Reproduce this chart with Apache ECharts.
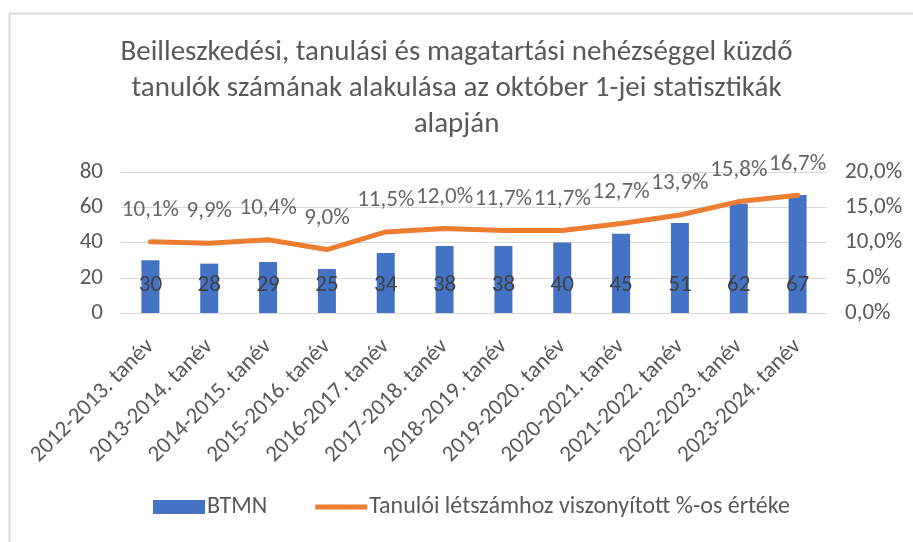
<!DOCTYPE html>
<html>
<head>
<meta charset="utf-8">
<script src="https://cdn.jsdelivr.net/npm/echarts@6/dist/echarts.min.js"></script>
<style>
  html, body { margin: 0; padding: 0; background: #fff; }
  #chart { width: 913px; height: 542px; }
</style>
</head>
<body>
<div id="chart"></div>
<script>
// ==================
// DATA
// ==================

const categories = [
    '2012-2013. tanév', '2013-2014. tanév', '2014-2015. tanév', '2015-2016. tanév',
    '2016-2017. tanév', '2017-2018. tanév', '2018-2019. tanév', '2019-2020. tanév',
    '2020-2021. tanév', '2021-2022. tanév', '2022-2023. tanév', '2023-2024. tanév'
];
const btmnValues = [30, 28, 29, 25, 34, 38, 38, 40, 45, 51, 62, 67];
const percentValues = [10.1, 9.9, 10.4, 9.0, 11.5, 12.0, 11.7, 11.7, 12.7, 13.9, 15.8, 16.7];

const titleText = 'Beilleszkedési, tanulási és magatartási nehézséggel küzdő\ntanulók számának alakulása az október 1-jei statisztikák\nalapján';
const barName = 'BTMN';
const lineName = 'Tanulói létszámhoz viszonyított %-os értéke';

const FONT = 'Carlito, "Liberation Sans Narrow", "Liberation Sans", sans-serif';
const TEXT_COLOR = '#595959';
const LABEL_COLOR = '#404040';
const BAR_COLOR = '#4472C4';
const LINE_COLOR = '#ED7D31';

const fmtPct = v => v.toFixed(1).replace('.', ',') + '%';

// ==================
// CHART
// ==================

const chart = echarts.init(document.getElementById('chart'));

const option = {
    animation: false,
    textStyle: { fontFamily: FONT },
    title: {
        text: titleText,
        left: 'center',
        top: 30,
        textStyle: {
            color: TEXT_COLOR,
            fontSize: 29,
            fontWeight: 'normal',
            lineHeight: 36,
            fontFamily: FONT
        }
    },
    graphic: [{
        type: 'rect',
        left: 7,
        top: 11,
        shape: { width: 1000, height: 600 },
        style: { fill: 'none', stroke: '#D9D9D9', lineWidth: 2 },
        silent: true
    }],
    legend: {
        bottom: 18,
        left: 148,
        itemGap: 48,
        itemWidth: 52,
        itemHeight: 14,
        textStyle: { color: TEXT_COLOR, fontSize: 24, padding: [0, 0, 0, -3], fontFamily: FONT },
        data: [
            { name: barName, icon: 'rect' },
            { name: lineName, icon: 'path://M0,0H52V5H0Z', itemStyle: { color: LINE_COLOR } }
        ]
    },
    grid: {
        left: 121,
        right: 86,
        top: 172,
        height: 141,
        containLabel: false
    },
    xAxis: {
        type: 'category',
        data: categories,
        axisLine: { lineStyle: { color: '#D9D9D9', width: 1 } },
        axisTick: { show: false },
        axisLabel: {
            color: TEXT_COLOR,
            fontSize: 23,
            rotate: 45,
            interval: 0,
            margin: 30,
            fontFamily: FONT
        }
    },
    yAxis: [{
        type: 'value',
        min: 0,
        max: 80,
        interval: 20,
        axisLine: { show: false },
        axisTick: { show: false },
        axisLabel: { color: TEXT_COLOR, fontSize: 23, margin: 18, fontFamily: FONT },
        splitLine: { lineStyle: { color: '#D9D9D9', width: 1 } }
    }, {
        type: 'value',
        min: 0,
        max: 20,
        interval: 5,
        axisLine: { show: false },
        axisTick: { show: false },
        axisLabel: {
            color: TEXT_COLOR,
            fontSize: 23,
            margin: 18,
            fontFamily: FONT,
            formatter: v => fmtPct(v)
        },
        splitLine: { show: false }
    }],
    series: [{
        name: barName,
        type: 'bar',
        data: btmnValues,
        barWidth: 18,
        itemStyle: { color: BAR_COLOR },
        label: {
            show: true,
            position: 'insideBottom',
            distance: 16,
            color: LABEL_COLOR,
            fontSize: 23,
            fontFamily: FONT
        },
        z: 2
    }, {
        name: lineName,
        type: 'line',
        yAxisIndex: 1,
        data: percentValues,
        symbol: 'none',
        lineStyle: { color: LINE_COLOR, width: 5, cap: 'round', join: 'round' },
        itemStyle: { color: LINE_COLOR },
        z: 3
    }, {
        // invisible points carrying the percentage labels
        name: 'pctLabels',
        type: 'scatter',
        yAxisIndex: 1,
        data: percentValues,
        symbolSize: 0,
        silent: true,
        label: {
            show: true,
            position: 'top',
            distance: 20,
            color: LABEL_COLOR,
            fontSize: 23,
            fontFamily: FONT,
            formatter: p => fmtPct(p.value)
        },
        z: 4
    }]
};

chart.setOption(option);
</script>
</body>
</html>
